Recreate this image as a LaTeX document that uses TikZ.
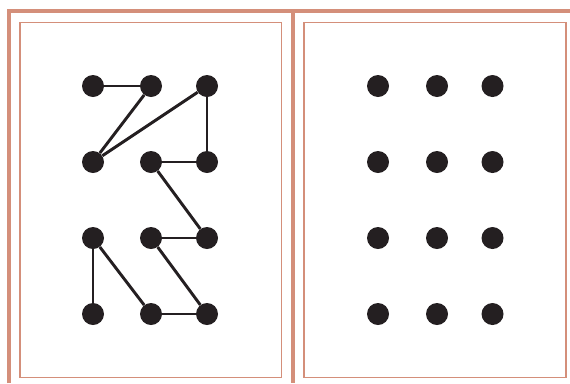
\documentclass[tikz,border=0pt]{standalone}
\usepackage{tikz}
\usetikzlibrary{calc}
\definecolor{framered}{rgb}{0.83,0.56,0.48}
\definecolor{dotblack}{rgb}{0.14,0.12,0.13}
\tikzset{
  dot/.style={circle, fill=dotblack, inner sep=0pt, minimum size=16.5pt},
  link/.style={line width=2.2pt, dotblack}
}

\begin{document}
\begin{tikzpicture}[x=0.75pt, y=-0.75pt]
    \useasboundingbox (0,0) rectangle (570,383);
    % Frame
    \draw[framered, line width=3pt] (8.7,383) -- (8.7,11.3) -- (570,11.3);
    \draw[framered, line width=3pt] (293,9.3) -- (293,383);
    \draw[framered, line width=1.1pt] (19.8,22.5) rectangle (281.5,377.5);
    \draw[framered, line width=1.1pt] (304,22.5) rectangle (565.8,377.5);
    % Dots
    \foreach \r/\y in {1/86, 2/162, 3/238, 4/314} {
      \foreach \c/\x in {1/93, 2/151, 3/207}
        \node[dot] (L\r\c) at (\x,\y) {};
      \foreach \c/\x in {1/378, 2/437, 3/492.5}
        \node[dot] (R\r\c) at (\x,\y) {};
    }
    % Pattern
    \foreach \a/\b in {L11/L12, L12/L21, L21/L13, L13/L23, L23/L22, L22/L33,
                       L33/L32, L32/L43, L43/L42, L42/L31, L31/L41}
      \draw[link] (\a) -- (\b);
\end{tikzpicture}
\end{document}
